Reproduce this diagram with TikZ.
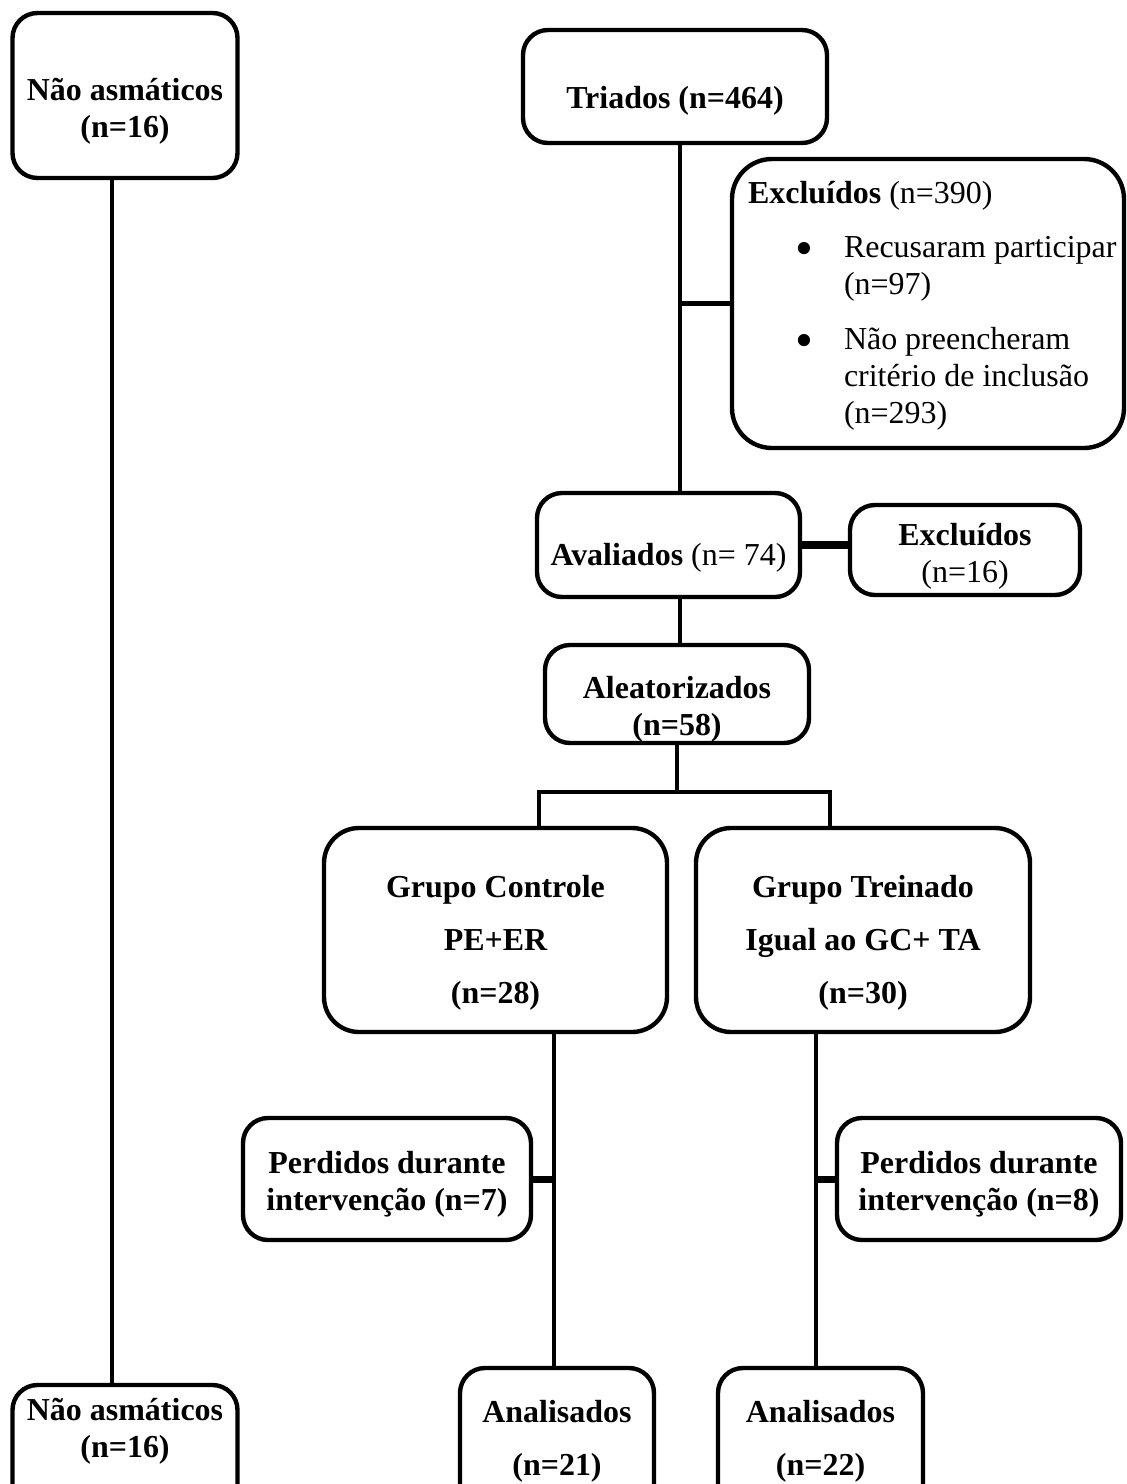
\documentclass[tikz,border=0pt]{standalone}
\usepackage{fontspec}
\setmainfont{Liberation Serif}
\usetikzlibrary{positioning}
\newlength{\unitpx}
\setlength{\unitpx}{0.02cm}

\tikzset{
  box/.style={draw, line width=2.5pt, rounded corners=0.5cm, align=center,
    inner sep=0pt, font=\fontsize{18.2}{21}\selectfont\bfseries},
  conn/.style={line width=2.5pt},
  thickconn/.style={line width=4pt}
}
\newcommand{\bigbullet}{\makebox[80\unitpx]{\raisebox{-4.5pt}{\scalebox{1.6}{\textbullet}}}}

\begin{document}
\begin{tikzpicture}[x=0.02cm, y=-0.02cm]
        \useasboundingbox (0,0) rectangle (1126,1484);
        \clip (0,0) rectangle (1126,1484);

        % Draw the boxes
        \node[box, minimum width=225\unitpx, text height=124\unitpx, text depth=41\unitpx] (na1) at (125,95.5) {Não asmáticos\\(n=16)};
        \node[box, minimum width=304\unitpx, text height=78\unitpx, text depth=35\unitpx] (tri) at (675,86.5) {Triados (n=464)};
        \node[box, rounded corners=40\unitpx, align=left, font=\fontsize{18.2}{21}\selectfont,
              text height=264\unitpx, text depth=25\unitpx] (exc1) at (928,303.5)
            {\makebox[392\unitpx][l]{\hspace*{16\unitpx}\textbf{Excluídos} (n=390)}\\[10pt]
             \hspace*{32\unitpx}\bigbullet Recusaram participar\\
             \hspace*{112\unitpx}(n=97)\\[10pt]
             \hspace*{32\unitpx}\bigbullet Não preencheram\\
             \hspace*{112\unitpx}critério de inclusão\\
             \hspace*{112\unitpx}(n=293)};
        \node[box, minimum width=263\unitpx, text height=72\unitpx, text depth=32\unitpx] (ava) at (668.5,545) {Avaliados \mdseries(n= 74)};
        \node[box, minimum width=230\unitpx, text height=77\unitpx, text depth=13\unitpx] (exc2) at (965,550) {Excluídos\\\mdseries(n=16)};
        \node[box, minimum width=264\unitpx, text height=90\unitpx, text depth=8\unitpx] (ale) at (677,694) {Aleatorizados\\(n=58)};
        \node[box, rounded corners=35\unitpx, minimum width=343\unitpx, text height=175\unitpx, text depth=29\unitpx] (gc) at (495.5,930) {Grupo Controle\\[9pt]PE+ER\\[9pt](n=28)};
        \node[box, rounded corners=35\unitpx, minimum width=334\unitpx, text height=175\unitpx, text depth=29\unitpx] (gt) at (863,930) {Grupo Treinado\\[9pt]Igual ao GC+ TA\\[9pt](n=30)};
        \node[box, minimum width=288\unitpx, text height=92\unitpx, text depth=30\unitpx] (per1) at (387,1179) {Perdidos durante\\intervenção (n=7)};
        \node[box, minimum width=284\unitpx, text height=92\unitpx, text depth=30\unitpx] (per2) at (979,1179) {Perdidos durante\\intervenção (n=8)};
        \node[box, minimum width=225\unitpx, text height=72\unitpx, text depth=128\unitpx] (na2) at (125,1485) {Não asmáticos\\(n=16)};
        \node[box, minimum width=194\unitpx, text height=107\unitpx, text depth=93\unitpx] (an1) at (557,1468) {Analisados\\[9pt](n=21)};
        \node[box, minimum width=205\unitpx, text height=107\unitpx, text depth=93\unitpx] (an2) at (820.5,1468) {Analisados\\[9pt](n=22)};

        % Vertical lines and split
        \coordinate (sp0) at (112,0);
        \coordinate (sp1) at (680,0);
        \coordinate (sp2) at (554,0);
        \coordinate (sp3) at (816,0);
        \coordinate (gcx) at (539,0);
        \coordinate (gtx) at (830,0);
        \coordinate (split) at (0,792);

        % Connect the boxes
        \draw[conn] (sp0 |- na1.south) -- (sp0 |- na2.north);
        \draw[conn] (sp1 |- tri.south) -- (sp1 |- ava.north);
        \draw[conn] (sp1 |- exc1.west) -- (exc1.west);
        \draw[thickconn] (ava.east) -- (ava.east -| exc2.west);
        \draw[conn] (sp1 |- ava.south) -- (sp1 |- ale.north);
        \draw[conn] (ale.south) -- (ale.south |- split);
        \draw[conn] (gcx |- gc.north) -- (gcx |- split) -- (gtx |- split) -- (gtx |- gt.north);
        \draw[conn] (sp2 |- gc.south) -- (sp2 |- an1.north);
        \draw[thickconn] (per1.east) -- (per1.east -| sp2);
        \draw[conn] (sp3 |- gt.south) -- (sp3 |- an2.north);
        \draw[thickconn] (per2.west) -- (per2.west -| sp3);
\end{tikzpicture}
\end{document}
